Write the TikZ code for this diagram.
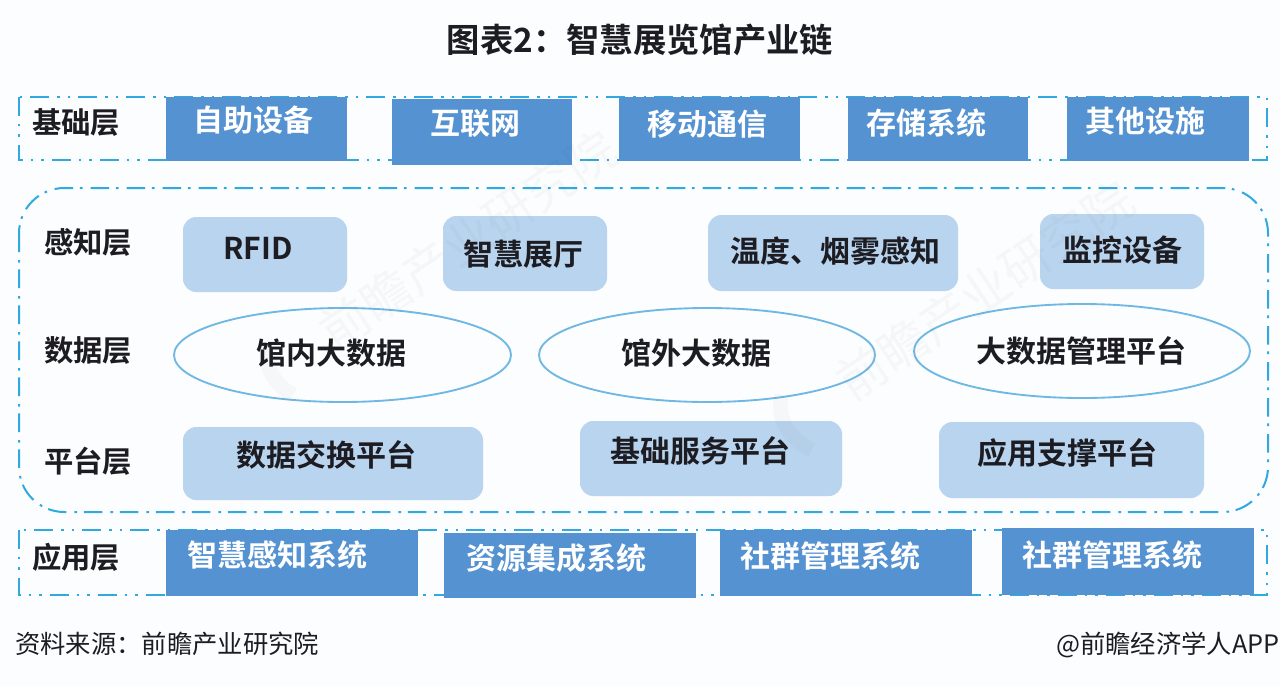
\documentclass[tikz,border=0pt]{standalone}
\usepackage{fontspec}
\usetikzlibrary{shapes.geometric}
\setmainfont{Noto Sans CJK SC}[BoldFont={Noto Sans CJK SC Bold}]
\definecolor{darkbox}{HTML}{5592D2}
\definecolor{lightbox}{HTML}{B9D4EE}
\definecolor{dashblue}{HTML}{2FA9E0}
\definecolor{ringblue}{HTML}{70B8E4}
\definecolor{inkc}{HTML}{1C1C22}
\definecolor{pagebg}{HTML}{FCFDFE}
\newcommand\tbox[9]{%
  \node[#2,minimum width={(#5-#3)*0.75pt},minimum height={(#6-#4)*0.75pt}] (#1) at ({(#3+#5)/2},{(#4+#6)/2}) {};
  \node[#2text] (#1t) at (#7,#8) {#9};}
\tikzset{
  x=0.75pt,y=-0.75pt,
  darkb/.style={draw=none,fill=darkbox,inner sep=0pt,outer sep=0pt},
  darkbtext/.style={text=white,font=\fontsize{22.5pt}{24pt}\selectfont\bfseries,inner sep=0pt},
  lightb/.style={draw=none,fill=lightbox,rounded corners=10pt,inner sep=0pt,outer sep=0pt},
  lightbtext/.style={text=inkc,font=\fontsize{22.5pt}{24pt}\selectfont\bfseries,inner sep=0pt},
  ringb/.style={ellipse,draw=ringblue,line width=1.4pt,fill=pagebg,inner sep=0pt,outer sep=0pt},
  ringbtext/.style={text=inkc,font=\fontsize{22.5pt}{24pt}\selectfont\bfseries,inner sep=0pt},
  layername/.style={text=inkc,font=\fontsize{22pt}{24pt}\selectfont\bfseries,inner sep=0pt},
  rowframe/.style={draw=dashblue,line width=1.5pt,dash pattern=on 14pt off 6pt on 2pt off 6pt on 2pt off 6pt},
  bigframe/.style={draw=dashblue,line width=1.5pt,rounded corners=34pt,dash pattern=on 14pt off 6pt on 2pt off 5pt},
  wmark/.style={text=black!70,opacity=0.035,font=\fontsize{37pt}{40pt}\selectfont,inner sep=0pt,rotate=34},
  wlogo/.style={draw=black!60,opacity=0.04,line width=11pt},
  footertext/.style={text=inkc,font=\fontsize{19pt}{22pt}\selectfont,inner sep=0pt},
}
\begin{document}
\begin{tikzpicture}
\useasboundingbox (0,0) rectangle (1280,686);
\fill[pagebg] (0,0) rectangle (1280,686);
\node[text=inkc,font=\fontsize{25pt}{28pt}\selectfont\bfseries,inner sep=0pt] (title) at (640,40) {图表2：智慧展览馆产业链};
% frames
\draw[rowframe] (19,97) rectangle (1267,160);
\draw[rowframe] (19,530) rectangle (1267,595);
\draw[bigframe] (19,188) rectangle (1268,512);
% layer names
\node[layername] (l1) at (76,123) {基础层};
\node[layername] (l2) at (88,242) {感知层};
\node[layername] (l3) at (88,351) {数据层};
\node[layername] (l4) at (88,461) {平台层};
\node[layername] (l5) at (76,557) {应用层};
% base row
\tbox{a1}{darkb}{166}{97}{347}{161}{253}{120}{自助设备}
\tbox{a2}{darkb}{392}{99}{572}{165}{475}{124}{互联网}
\tbox{a3}{darkb}{619}{97}{800}{161}{707}{124}{移动通信}
\tbox{a4}{darkb}{848}{97}{1028}{161}{926}{123}{存储系统}
\tbox{a5}{darkb}{1067}{97}{1249}{161}{1145}{121}{其他设施}
% perception row
\tbox{b1}{lightb}{183}{217}{347}{292}{258}{248}{RFID}
\tbox{b2}{lightb}{443}{216}{607}{291}{523}{254}{智慧展厅}
\tbox{b3}{lightb}{708}{215}{958}{291}{835}{251}{温度、烟雾感知}
\tbox{b4}{lightb}{1040}{214}{1204}{289}{1122}{250}{监控设备}
% data row
\tbox{c1}{ringb}{174}{308}{511}{402}{331}{353}{馆内大数据}
\tbox{c2}{ringb}{539}{308}{875}{402}{696}{353}{馆外大数据}
\tbox{c3}{ringb}{914}{304}{1250}{398}{1081}{351}{大数据管理平台}
% platform row
\tbox{d1}{lightb}{183}{427}{483}{500}{326}{455}{数据交换平台}
\tbox{d2}{lightb}{580}{421}{842}{496}{700}{451}{基础服务平台}
\tbox{d3}{lightb}{939}{422}{1204}{498}{1067}{453}{应用支撑平台}
% application row
\tbox{e1}{darkb}{166}{530}{418}{596}{277}{555}{智慧感知系统}
\tbox{e2}{darkb}{444}{533}{696}{598}{556}{558}{资源集成系统}
\tbox{e3}{darkb}{720}{530}{972}{596}{830}{556}{社群管理系统}
\tbox{e4}{darkb}{1002}{528}{1254}{595}{1112}{555}{社群管理系统}
% footer
\node[footertext,anchor=west] (src) at (15,644) {资料来源：前瞻产业研究院};
\node[footertext,anchor=east] (brand) at (1280,645) {@前瞻经济学人APP};
% watermarks
\node[wmark] (w1) at (468,240) {前瞻产业研究院};
\node[wmark] (w2) at (985,290) {前瞻产业研究院};
\draw[wlogo] (268,345) .. controls (262,365) and (275,385) .. (293,395);
\draw[wlogo] (782,395) .. controls (775,418) and (790,440) .. (812,450);
\end{tikzpicture}
\end{document}
